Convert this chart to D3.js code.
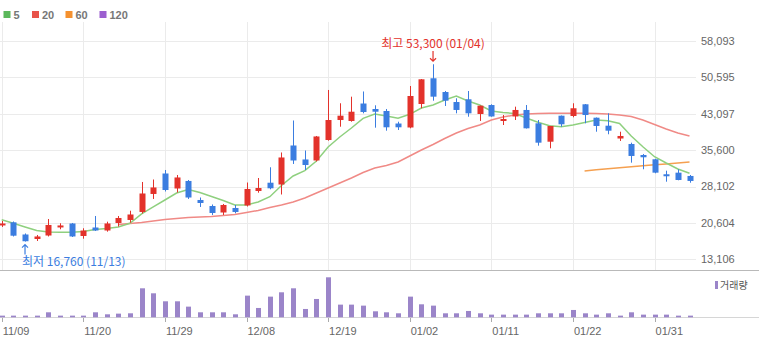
<!DOCTYPE html>
<html>
<head>
<meta charset="utf-8">
<script src="https://cdn.jsdelivr.net/npm/d3@7"></script>
<style>
  html, body { margin: 0; padding: 0; background: #fff; }
  svg { display: block; }
  text { font-family: "Liberation Sans", Arial, "Noto Sans CJK KR", sans-serif; }
  .kr { font-family: "Noto Sans CJK KR", "Liberation Sans", sans-serif; }
</style>
</head>
<body>
<svg id="chart" width="759" height="341"></svg>
<script>
// Trading days
const dates = ["11/09","11/10","11/13","11/14","11/15","11/16","11/17","11/20","11/21","11/22",
  "11/23","11/24","11/27","11/28","11/29","11/30","12/01","12/04","12/05","12/06",
  "12/07","12/08","12/11","12/12","12/13","12/14","12/15","12/18","12/19","12/20",
  "12/21","12/22","12/26","12/27","12/28","01/02","01/03","01/04","01/05","01/08",
  "01/09","01/10","01/11","01/12","01/15","01/16","01/17","01/18","01/19","01/22",
  "01/23","01/24","01/25","01/26","01/29","01/30","01/31","02/01","02/02","02/05"];

const open  = [20180,20730,18220,17290,18010,19770,20490,17910,19660,19040,
  20590,21210,22860,26570,30790,27700,29250,25330,24090,22750,
  23680,24200,27180,28890,28520,36560,33680,33470,37690,41810,
  41610,45210,44080,43670,41090,40270,45110,50410,47580,45520,
  46080,43050,44900,41810,42540,43880,41130,37340,42700,42640,
  45050,42290,40640,38000,36870,34600,33720,30630,30960,30280];
const high  = [21000,20900,18430,18120,21410,20530,20590,19500,22030,20860,
  22030,23120,29040,29550,31510,30480,29450,25840,24400,24510,
  24300,28930,29860,32070,35120,41710,35530,38520,48000,45260,
  46620,47690,44840,44080,41460,48820,50260,53300,47790,46290,
  47790,44800,45050,42840,44560,44900,41810,40600,42740,45260,
  45110,42330,43190,39400,37140,34810,33840,31370,31660,30480];
const low   = [19770,17810,16760,16880,17810,19290,17700,17360,18940,18800,
  19870,20650,22550,25540,27080,26880,25540,23890,22240,22240,
  22590,23990,26830,27530,26460,32750,31510,33260,37550,40430,
  41460,43190,40230,39610,39750,40100,44230,45790,44700,43190,
  42490,41610,42490,40780,41810,40060,36520,35980,40430,42370,
  41130,39400,38870,37490,33020,31660,30830,29100,29390,28890];
const close = [20490,17970,16830,17810,20180,20080,17810,19040,19040,20490,
  21620,22340,26670,27910,27390,29970,25840,24710,22650,24300,
  22860,27600,27800,27740,34090,33470,32540,38420,41810,42700,
  43520,43460,43520,40310,40310,46760,50200,46620,45790,43880,
  43190,44760,42540,42020,43880,40100,37140,40580,40930,44230,
  42840,40580,39610,38520,34400,34130,30960,30280,29450,29250];
const volume = [50000,50000,50000,50000,150000,50000,50000,50000,150000,90000,
  110000,120000,870000,720000,480000,480000,320000,150000,150000,150000,
  90000,650000,280000,620000,750000,870000,250000,550000,1200000,380000,
  380000,350000,180000,150000,120000,620000,390000,350000,120000,120000,
  190000,120000,80000,80000,80000,80000,120000,120000,120000,220000,
  120000,80000,120000,50000,150000,80000,80000,80000,50000,50000];

// Moving averages (null where no value is plotted)
const ma5 = [21270,20530,19770,19050,18740,18670,18670,18840,19250,19460,
  19770,20530,22450,23890,25330,26770,27490,26870,26050,25230,
  24300,24300,24920,26010,28320,30270,31370,33370,36250,38310,
  40170,42160,43050,42640,42160,42990,44290,44910,45940,46760,
  45730,44910,43670,43360,43150,42230,41340,40640,40430,40780,
  41300,41810,41670,41090,38520,36310,34250,32950,31720,30830];
const ma20 = [null,null,null,null,null,null,null,null,null,null,
  20280,20490,20690,21000,21310,21520,21720,21830,21930,22140,
  22340,22750,23170,23790,24300,24920,25740,26770,27800,28830,
  29860,31000,31920,32440,33160,34400,35630,36770,38000,39140,
  40060,40780,41810,42430,42840,43050,43150,43190,43190,43190,
  43190,43150,43050,42840,42540,41810,40890,39960,39140,38520];
const ma60 = [null,null,null,null,null,null,null,null,null,null,
  null,null,null,null,null,null,null,null,null,null,
  null,null,null,null,null,null,null,null,null,null,
  null,null,null,null,null,null,null,null,null,null,
  null,null,null,null,null,null,null,null,null,null,
  31310,31550,31780,31990,32190,32400,32580,32750,32950,33160];

const priceTicks = [13106, 20604, 28102, 35600, 43097, 50595, 58093];
const dateTicks = ["11/09","11/20","11/29","12/08","12/19","01/02","01/11","01/22","01/31"];
const legendItems = [
  { label: "5",   color: "#5cb85c" },
  { label: "20",  color: "#e8534a" },
  { label: "60",  color: "#f5912f" },
  { label: "120", color: "#9c5fcf" }
];
const maxInfo = { idx: 37, text: "최고 53,300 (01/04)" };
const minInfo = { idx: 2,  text: "최저 16,760 (11/13)" };

const UP = "#e3322b", DOWN = "#3b7de0";
const svg = d3.select("#chart");

const x = d3.scalePoint().domain(dates).range([1.7, 689.5]);
const y = d3.scaleLinear().domain([13106, 58093]).range([259.3, 41]);
const yv = d3.scaleLinear().domain([0, 1200000]).range([317.3, 277.3]);

// grid
const grid = svg.append("g");
grid.selectAll("line.h").data(priceTicks).join("line")
  .attr("x1", 0).attr("x2", 696)
  .attr("y1", d => Math.round(y(d)) + 0.5).attr("y2", d => Math.round(y(d)) + 0.5)
  .attr("stroke", "#ebebeb");
grid.selectAll("line.v").data(dateTicks).join("line")
  .attr("x1", d => Math.round(x(d)) + 0.5).attr("x2", d => Math.round(x(d)) + 0.5)
  .attr("y1", 22).attr("y2", 270)
  .attr("stroke", "#ebebeb");

// price axis labels
svg.append("g").selectAll("text").data(priceTicks).join("text")
  .attr("x", 701).attr("y", d => y(d)).attr("dy", "0.35em")
  .attr("font-size", 11).attr("fill", "#666")
  .text(d => d3.format(",")(d));

// panel separators
svg.append("line").attr("x1", 0).attr("x2", 759).attr("y1", 270.5).attr("y2", 270.5).attr("stroke", "#b9b9b9");
svg.append("line").attr("x1", 0).attr("x2", 759).attr("y1", 317.5).attr("y2", 317.5).attr("stroke", "#d6d6d6");

// moving averages
const maLine = arr => d3.line()
  .defined((d, i) => arr[i] != null)
  .x((d, i) => x(dates[i]))
  .y((d, i) => y(arr[i]));
svg.append("path").datum(ma20).attr("d", maLine(ma20)).attr("fill", "none")
  .attr("stroke", "#f08a86").attr("stroke-width", 1.5);
svg.append("path").datum(ma60).attr("d", maLine(ma60)).attr("fill", "none")
  .attr("stroke", "#f5a050").attr("stroke-width", 1.5);
svg.append("path").datum(ma5).attr("d", maLine(ma5)).attr("fill", "none")
  .attr("stroke", "#8fd07f").attr("stroke-width", 1.5);

// candles
const candles = svg.append("g").selectAll("g").data(dates).join("g");
candles.append("line")
  .attr("x1", d => Math.round(x(d)) + 0.5).attr("x2", d => Math.round(x(d)) + 0.5)
  .attr("y1", (d, i) => y(high[i])).attr("y2", (d, i) => y(low[i]))
  .attr("stroke", (d, i) => close[i] >= open[i] ? UP : DOWN);
candles.append("rect")
  .attr("x", d => Math.round(x(d)) - 2.5)
  .attr("width", 6)
  .attr("y", (d, i) => y(Math.max(open[i], close[i])))
  .attr("height", (d, i) => Math.max(2, Math.abs(y(open[i]) - y(close[i]))))
  .attr("fill", (d, i) => close[i] >= open[i] ? UP : DOWN);

// volume bars
svg.append("g").selectAll("rect").data(dates).join("rect")
  .attr("x", d => Math.round(x(d)) - 2)
  .attr("width", 5)
  .attr("y", (d, i) => yv(volume[i]))
  .attr("height", (d, i) => yv(0) - yv(volume[i]))
  .attr("fill", "#9b85c9");

// date axis
svg.append("g").selectAll("line").data(dateTicks).join("line")
  .attr("x1", d => Math.round(x(d)) + 0.5).attr("x2", d => Math.round(x(d)) + 0.5)
  .attr("y1", 318).attr("y2", 322).attr("stroke", "#aaa");
svg.append("g").selectAll("text").data(dateTicks).join("text")
  .attr("x", d => x(d) + 1).attr("y", 335)
  .attr("font-size", 11).attr("fill", "#666")
  .text(d => d);

// volume legend
svg.append("rect").attr("x", 715).attr("y", 281).attr("width", 3).attr("height", 8).attr("fill", "#9b85c9");
svg.append("text").attr("class", "kr").attr("x", 720).attr("y", 289)
  .attr("font-size", 10).attr("fill", "#555").text("거래량");

// MA legend
const lg = svg.append("g").selectAll("g").data(legendItems).join("g")
  .attr("transform", (d, i) => `translate(${[3.5, 32, 65.5, 99.5][i]},11)`);
lg.append("rect").attr("width", 7).attr("height", 7).attr("fill", d => d.color);
lg.append("text").attr("x", 10).attr("y", 7.5).attr("font-size", 11)
  .attr("font-weight", "bold").attr("fill", "#777").text(d => d.label);

// high / low markers
const hx = x(dates[maxInfo.idx]);
const hy = y(high[maxInfo.idx]);
svg.append("text").attr("class", "kr").attr("x", hx).attr("y", 47.5)
  .attr("text-anchor", "middle").attr("font-size", 12).attr("fill", UP).text(maxInfo.text);
svg.append("path").attr("d", `M${hx},${51} V${hy - 3} M${hx - 3},${hy - 6} L${hx},${hy - 3} L${hx + 3},${hy - 6}`)
  .attr("fill", "none").attr("stroke", UP).attr("stroke-width", 1.2);

const lx = x(dates[minInfo.idx]);
const ly = y(low[minInfo.idx]);
svg.append("path").attr("d", `M${lx},${ly + 13} V${ly + 3} M${lx - 3},${ly + 6} L${lx},${ly + 3} L${lx + 3},${ly + 6}`)
  .attr("fill", "none").attr("stroke", DOWN).attr("stroke-width", 1.2);
svg.append("text").attr("class", "kr").attr("x", 22).attr("y", 265.5)
  .attr("font-size", 12).attr("fill", DOWN).text(minInfo.text);
</script>
</body>
</html>
